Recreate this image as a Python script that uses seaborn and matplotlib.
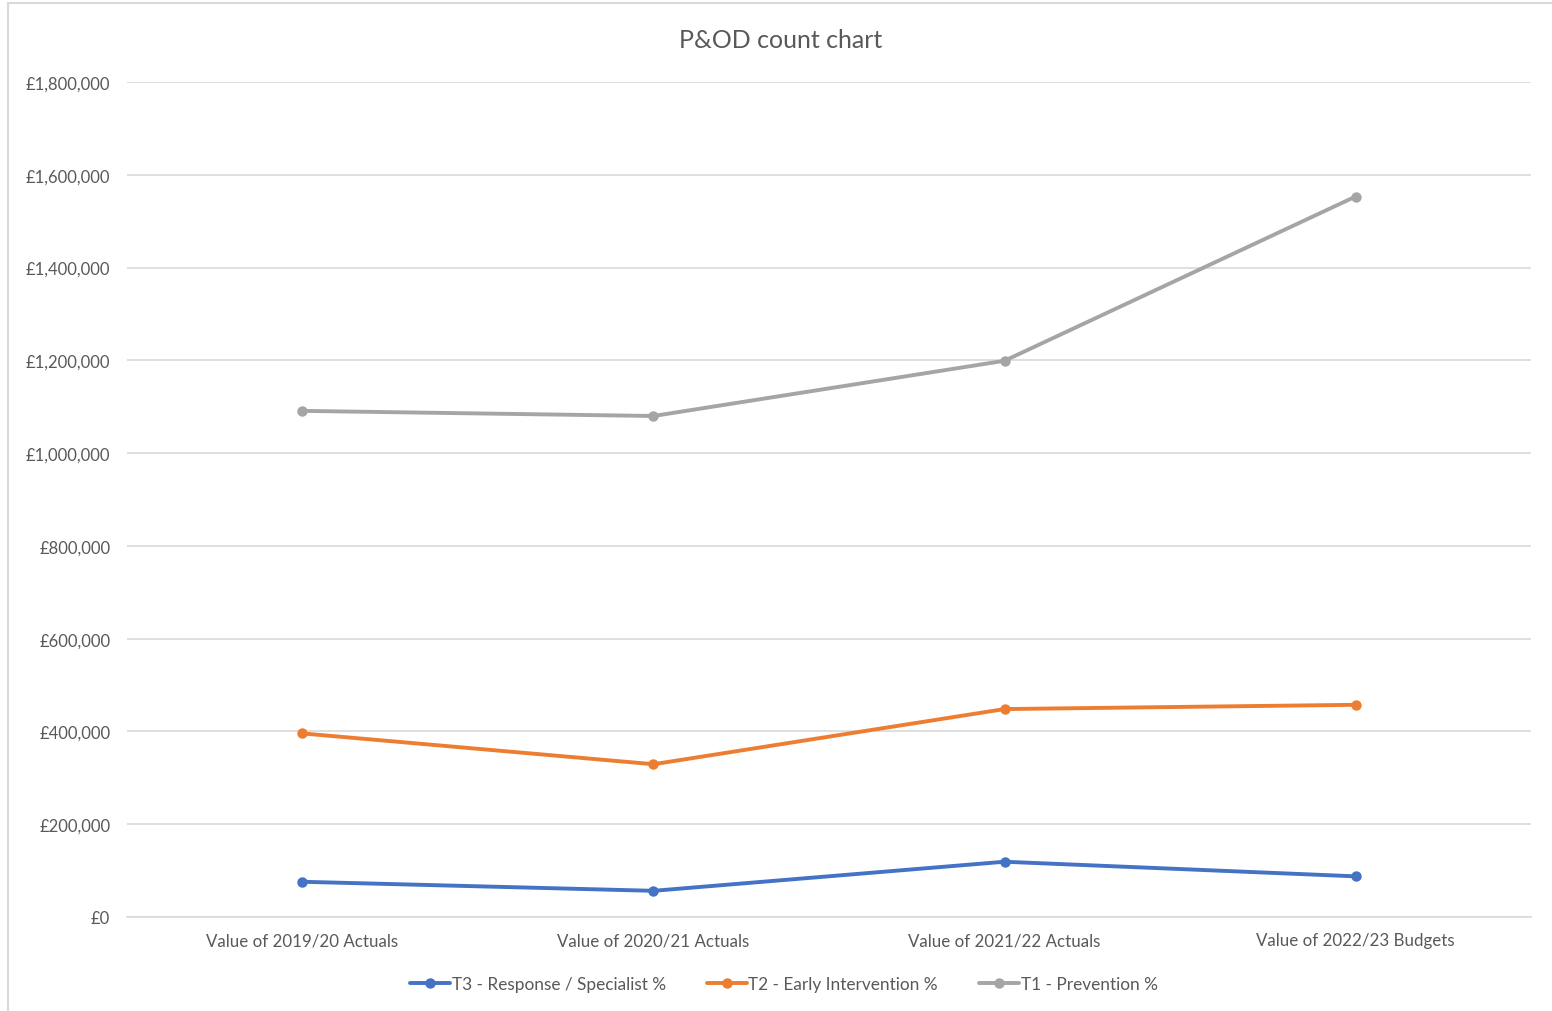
import matplotlib
matplotlib.use("Agg")
import matplotlib.pyplot as plt
import matplotlib.ticker as mticker
from matplotlib.patches import Rectangle
import pandas as pd
import seaborn as sns

categories = [
    "Value of 2019/20 Actuals",
    "Value of 2020/21 Actuals",
    "Value of 2021/22 Actuals",
    "Value of 2022/23 Budgets",
]
series_names = [
    "T3 - Response / Specialist %",
    "T2 - Early Intervention %",
    "T1 - Prevention %",
]
t3_values = [75900, 56400, 119100, 87600]
t2_values = [395700, 329300, 448200, 457400]
t1_values = [1091000, 1080000, 1199000, 1553000]
series_colors = ["#4472C4", "#ED7D31", "#A5A5A5"]

rows = []
for name, vals in zip(series_names, [t3_values, t2_values, t1_values]):
    for i, (cat, v) in enumerate(zip(categories, vals)):
        rows.append({"category": cat, "pos": i, "series": name, "value": v})
df = pd.DataFrame(rows)

sns.set_theme(style="white")
plt.rcParams["font.family"] = ["Lato", "DejaVu Sans"]
text_color = "#595959"

fig = plt.figure(figsize=(15.52, 10.12), dpi=100)
ax = fig.add_axes([0.0818, 0.0929, 0.9047, 0.8251])

sns.lineplot(
    data=df, x="pos", y="value", hue="series", hue_order=series_names,
    palette=series_colors, marker="o", markersize=7.5, markeredgewidth=0,
    linewidth=2.8, sort=False, ax=ax, legend=True,
)

ax.set_xlim(-0.5, 3.5)
ax.set_ylim(0, 1800000)
ax.set_yticks(range(0, 1800001, 200000))
ax.yaxis.set_major_formatter(mticker.FuncFormatter(lambda v, p: f"£{int(v):,}"))
ax.set_xticks(range(len(categories)))
ax.set_xticklabels(categories)
ax.set_xlabel("")
ax.set_ylabel("")

ax.grid(axis="y", color="#D9D9D9", linewidth=1.2)
ax.grid(axis="x", visible=False)
ax.set_axisbelow(True)
for s in ["top", "right", "left"]:
    ax.spines[s].set_visible(False)
ax.spines["bottom"].set_color("#D9D9D9")
ax.spines["bottom"].set_linewidth(1.2)

ax.tick_params(axis="y", length=0, pad=12, labelsize=12, labelcolor=text_color)
ax.tick_params(axis="x", length=0, pad=11, labelsize=12.2, labelcolor=text_color)

fig.text(781 / 1552, 1 - 41 / 1012, "P&OD count chart", fontsize=18,
         color=text_color, ha="center", va="center")

handles, labels = ax.get_legend_handles_labels()
ax.legend(
    handles, labels, loc="center", bbox_to_anchor=(0.468, -0.0805),
    ncol=3, frameon=False, fontsize=12.4, labelcolor=text_color,
    handlelength=2.3, handletextpad=0.1, columnspacing=2.4,
)

# light frame around the chart area
fig.add_artist(Rectangle((8 / 1552, -0.01), 1.02, 1 - 4 / 1012 + 0.01,
                         transform=fig.transFigure, fill=False,
                         edgecolor="#D9D9D9", linewidth=1.5))

fig.savefig("out.png", dpi=100, facecolor="white")
